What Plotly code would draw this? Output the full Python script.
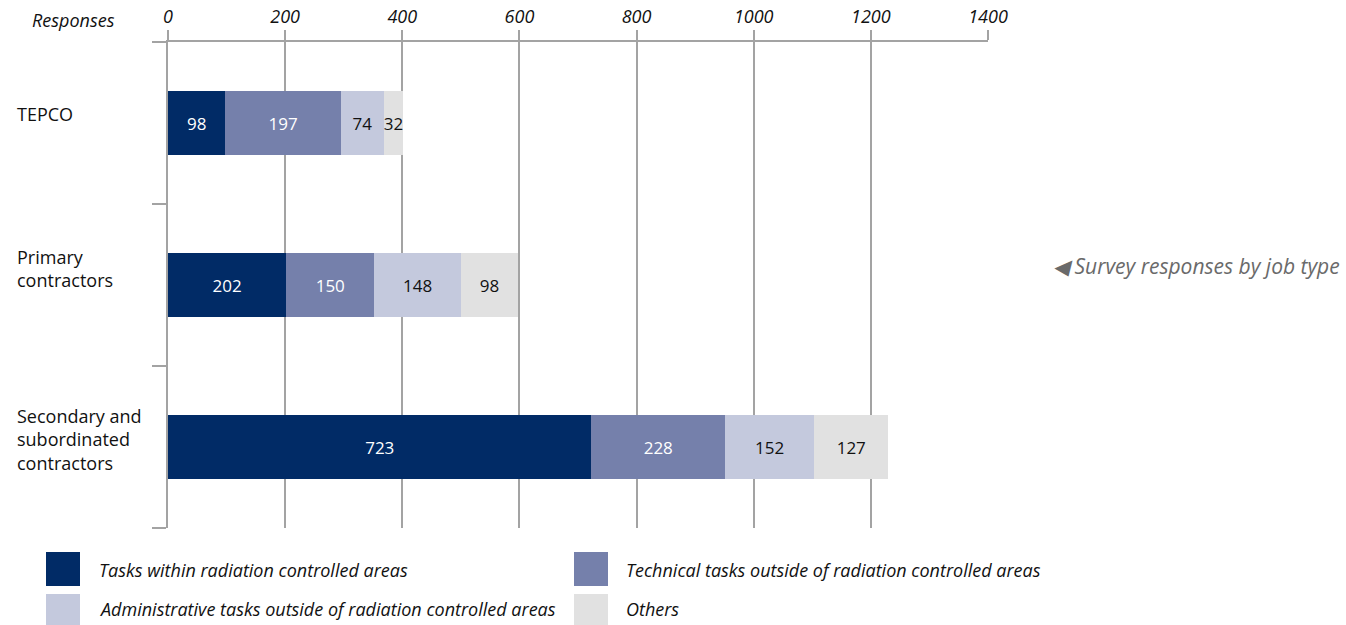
import plotly.graph_objects as go

categories = ["TEPCO", "Primary<br>contractors", "Secondary and<br>subordinated<br>contractors"]
series_names = [
    "Tasks within radiation controlled areas",
    "Technical tasks outside of radiation controlled areas",
    "Administrative tasks outside of radiation controlled areas",
    "Others",
]
within_radiation = [98, 202, 723]
technical_outside = [197, 150, 228]
administrative_outside = [74, 148, 152]
others = [32, 98, 127]
x_ticks = [0, 200, 400, 600, 800, 1000, 1200, 1400]

colors = ["#012b66", "#7580ab", "#c4c9dd", "#e1e1e1"]
text_colors = ["white", "white", "#111111", "#111111"]
series_values = [within_radiation, technical_outside, administrative_outside, others]
label_yshift = [9, 17, 8]

W, H = 1346, 625
L, R, T, B = 168, 988, 42, 528
FONT = "Open Sans"
GRID = "#a3a3a3"

def px(x):
    return (x - L) / (R - L)

def py(y):
    return (B - y) / (B - T)

fig = go.Figure()
ypos = list(range(len(categories)))
for name, vals, c, tc in zip(series_names, series_values, colors, text_colors):
    fig.add_trace(go.Bar(
        y=ypos, x=vals, orientation="h", name=name,
        marker=dict(color=c, line=dict(width=0)),
        text=[str(v) for v in vals], textposition="inside",
        insidetextanchor="middle", textangle=0, constraintext="none",
        textfont=dict(family=FONT, size=17, color=tc),
        showlegend=False, hoverinfo="x+name",
    ))

annotations = []
for i, cat in enumerate(categories):
    annotations.append(dict(
        xref="paper", yref="y", x=px(15), y=i, xanchor="left", yanchor="middle",
        yshift=label_yshift[i],
        text=cat, showarrow=False, align="left",
        font=dict(family=FONT, size=18, color="#111111"),
    ))
annotations.append(dict(
    xref="paper", yref="paper", x=px(117), y=py(20), xanchor="right", yanchor="middle",
    text="Responses", showarrow=False,
    font=dict(family=FONT, size=18, color="#111111", style="italic"),
))
annotations.append(dict(
    xref="paper", yref="paper", x=px(1342), y=py(266), xanchor="right", yanchor="middle",
    text="◀ Survey responses by job type", showarrow=False,
    font=dict(family=FONT, size=21, color="#6a6a6a", style="italic"),
))

shapes = []
legend_pos = [(46, 552, 97, 570), (574, 552, 624, 570), (46, 594, 97, 609), (574, 594, 624, 609)]
for (sx, sy, tx, ty), name, c in zip(legend_pos, series_names, colors):
    shapes.append(dict(type="rect", xref="paper", yref="paper",
                       x0=px(sx), x1=px(sx + 34), y0=py(sy), y1=py(sy + 34),
                       fillcolor=c, line=dict(width=0)))
    annotations.append(dict(
        xref="paper", yref="paper", x=px(tx), y=py(ty), xanchor="left", yanchor="middle",
        text=name, showarrow=False,
        font=dict(family=FONT, size=18, color="#111111", style="italic"),
    ))

fig.update_layout(
    width=W, height=H,
    margin=dict(l=L, r=W - R, t=T, b=H - B, pad=0, autoexpand=False),
    plot_bgcolor="white", paper_bgcolor="white",
    barmode="stack", bargap=0.6,
    annotations=annotations, shapes=shapes,
    showlegend=False,
    xaxis=dict(
        side="top", range=[0, 1400], tickvals=x_ticks, ticktext=[str(v) for v in x_ticks],
        showgrid=True, gridcolor=GRID, gridwidth=2,
        ticks="outside", ticklen=10, tickwidth=2, tickcolor=GRID,
        showline=True, linecolor=GRID, linewidth=2,
        zeroline=False, automargin=False,
        tickfont=dict(family=FONT, size=18, color="#111111", style="italic"),
    ),
    yaxis=dict(
        range=[len(categories) - 0.5, -0.5],
        tickvals=[-0.5, 0.5, 1.5, 2.5], ticktext=["", "", "", ""],
        ticks="outside", ticklen=14, tickwidth=2, tickcolor=GRID,
        showgrid=False, zeroline=False, automargin=False,
        showline=True, linecolor=GRID, linewidth=2,
        showticklabels=False,
    ),
)

fig.write_html(
    "out.html",
    config={"displayModeBar": False},
    post_script="document.body.style.margin='0';document.body.style.overflow='hidden';",
)
